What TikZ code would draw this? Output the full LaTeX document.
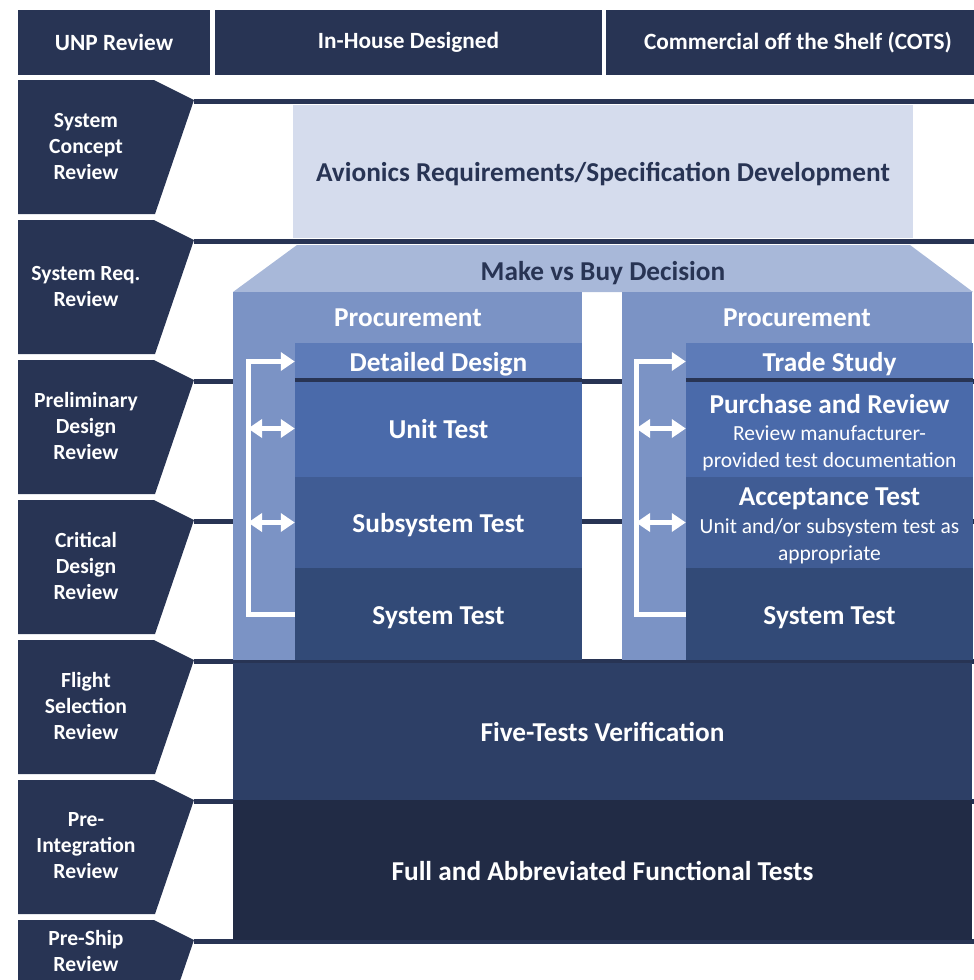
\documentclass[tikz,border=0pt]{standalone}
\usepackage{fontspec}
\setmainfont{Carlito}
\usetikzlibrary{arrows.meta}
\definecolor{navy}{HTML}{283454}
\definecolor{avfill}{HTML}{D5DCED}
\definecolor{mvbfill}{HTML}{A8B8D9}
\definecolor{panel}{HTML}{7B93C5}
\definecolor{lvla}{HTML}{5D7BB8}
\definecolor{lvlb}{HTML}{4A6AAA}
\definecolor{lvlc}{HTML}{405C94}
\definecolor{lvld}{HTML}{324A77}
\definecolor{lvle}{HTML}{2D3F66}
\definecolor{lvlf}{HTML}{212B45}
\newcommand\detailfont{\fontsize{21.5}{26}\selectfont\mdseries}

\begin{document}
\begin{tikzpicture}[
  x=1pt,y=-1pt,
  >={Triangle[length=14pt,width=18pt]},
  hdr/.style={fill=navy,text=white,inner sep=0pt,font=\fontsize{23.3}{28}\selectfont\bfseries},
  revtext/.style={text=white,align=center,inner sep=0pt,font=\fontsize{21.6}{26}\selectfont\bfseries},
  rowline/.style={navy,line width=5pt},
  box/.style={inner sep=0pt,text=white,align=center,text height=22pt,text depth=2pt,font=\fontsize{27.3}{30}\selectfont\bfseries},
  multi/.style={inner sep=0pt,text=white,align=center,font=\fontsize{27.3}{30}\selectfont\bfseries},
  brk/.style={white,line width=5pt}
]
\useasboundingbox (0,0) rectangle (974,980);
\clip (0,0) rectangle (974,980);

\foreach \t in {80,220,...,920} {
  \fill[navy] (18,\t) -- (154,\t) -- (194,\t+20) -- (155,\t+134) -- (18,\t+134) -- cycle;
  \draw[rowline] (194,\t+21) -- (974,\t+21);
}

\node[hdr,minimum width=192,minimum height=65] (unp) at (114,42.5) {UNP Review};
\node[hdr,minimum width=387,minimum height=65] (inh) at (408.5,42.5) {In-House Designed};
\node[hdr,minimum width=384,minimum height=65] (cots) at (798,42.5) {Commercial off the Shelf (COTS)};

\node[revtext] (scr) at (86,146) {System\\Concept\\Review};
\node[revtext] (srr) at (86,286) {System Req.\\Review};
\node[revtext] (pdr) at (86,426) {Preliminary\\Design\\Review};
\node[revtext] (cdr) at (86,566) {Critical\\Design\\Review};
\node[revtext] (fsr) at (86,706) {Flight\\Selection\\Review};
\node[revtext] (pir) at (86,846) {Pre-\\Integration\\Review};
\node[revtext] (psr) at (86,951) {Pre-Ship\\Review};

\node[box,fill=avfill,text=navy,minimum width=620,minimum height=133] (avr) at (603,171.5) {Avionics Requirements/Specification Development};

\fill[mvbfill] (297,245) -- (910,245) -- (973,292) -- (233,292) -- cycle;
\node[box,text=navy] (mvb) at (603,270) {Make vs Buy Decision};

\node[box,fill=panel,minimum width=349,minimum height=368] (lpan) at (407.5,476) {};
\node[box,fill=panel,minimum width=350,minimum height=368] (rpan) at (797,476) {};
\node[box] (lproc) at (408,316) {Procurement};
\node[box] (rproc) at (797,316) {Procurement};

\node[box,fill=lvla,minimum width=287,minimum height=37] (dd) at (438.5,361.5) {Detailed Design};
\node[box,fill=lvlb,minimum width=287,minimum height=97] (ut) at (438.5,428.5) {Unit Test};
\node[box,fill=lvlc,minimum width=287,minimum height=91] (sst) at (438.5,522.5) {Subsystem Test};
\node[box,fill=lvld,minimum width=287,minimum height=92] (lst) at (438.5,614) {System Test};

\node[box,fill=lvla,minimum width=287,minimum height=37] (ts) at (829.5,361.5) {Trade Study};
\node[box,fill=lvlb,minimum width=287,minimum height=97] (pr) at (829.5,428.5) {};
\node[multi] (prtxt) at (829.5,433) {Purchase and Review\\[-3pt]{\detailfont Review manufacturer-}\\[-3pt]{\detailfont provided test documentation}};
\node[box,fill=lvlc,minimum width=287,minimum height=91] (at) at (829.5,522.5) {};
\node[multi] (attxt) at (829.5,526) {Acceptance Test\\[-2pt]{\detailfont Unit and/or subsystem test as}\\[-3pt]{\detailfont appropriate}};
\node[box,fill=lvld,minimum width=287,minimum height=92] (rst) at (829.5,614) {System Test};

\draw[rowline,line width=4pt] (dd.south west) -- (dd.south east);
\draw[rowline,line width=4pt] (ts.south west) -- (ts.south east);

\node[box,fill=lvle,minimum width=739,minimum height=137] (ftv) at (602.5,731.5) {Five-Tests Verification};
\node[box,fill=lvlf,minimum width=739,minimum height=140] (fat) at (602.5,870) {Full and Abbreviated Functional Tests};

\coordinate (lk) at (248,0);
\coordinate (rk) at (636,0);
\draw[brk,->] (lst.west) -| (lk |- dd.west) -- (dd.west);
\draw[brk,<->] (lk |- ut.west) -- (ut.west);
\draw[brk,<->] (lk |- sst.west) -- (sst.west);
\draw[brk,->] (rst.west) -| (rk |- ts.west) -- (ts.west);
\draw[brk,<->] (rk |- pr.west) -- (pr.west);
\draw[brk,<->] (rk |- at.west) -- (at.west);
\end{tikzpicture}
\end{document}
